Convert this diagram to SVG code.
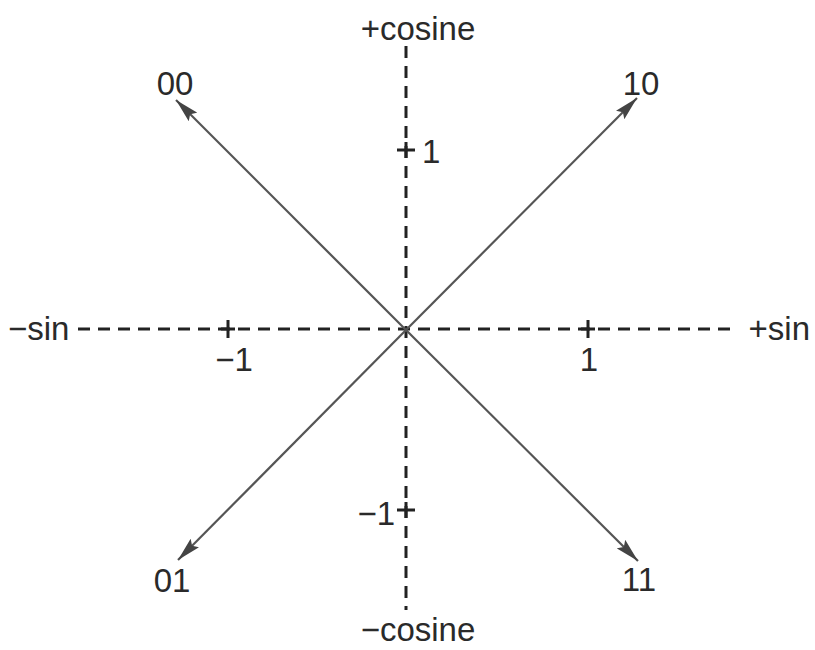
<svg xmlns="http://www.w3.org/2000/svg" width="815" height="650" viewBox="0 0 815 650">
<style>
text{font-family:"Liberation Sans",Arial,sans-serif;font-size:33px;fill:#2a2a2a}
.axis{stroke:#222;stroke-width:3;stroke-dasharray:12 8;fill:none}
.tick{stroke:#222;stroke-width:3;fill:none}
.vec{stroke:#555;stroke-width:2.2;fill:none;marker-end:url(#ah)}
</style>
<defs>
<marker id="ah" viewBox="0 0 24 12" refX="24" refY="6" markerWidth="24" markerHeight="12" markerUnits="userSpaceOnUse" orient="auto">
<path d="M0,0 L24,6 L0,12 L4,6 Z" fill="#444"/>
</marker>
</defs>
<g id="connectors">
<line class="axis" x1="406" y1="46" x2="406" y2="610"/>
<line class="axis" x1="78" y1="329" x2="735" y2="329"/>
<line class="vec" x1="406" y1="330" x2="176" y2="100"/>
<line class="vec" x1="406" y1="330" x2="637" y2="98"/>
<line class="vec" x1="406" y1="330" x2="178" y2="560"/>
<line class="vec" x1="406" y1="330" x2="638" y2="561"/>
</g>
<g id="ticks">
<path class="tick" d="M397,150 H415 M406,142 V158"/>
<path class="tick" d="M397,510 H415 M406,502 V518"/>
<path class="tick" d="M228,320 V338 M221,329 H235"/>
<path class="tick" d="M588,320 V338 M581,329 H595"/>
</g>
<g id="labels">
<text x="418" y="40" text-anchor="middle">+cosine</text>
<text x="418" y="641" text-anchor="middle">−cosine</text>
<text x="8" y="340">−sin</text>
<text x="810" y="340" text-anchor="end">+sin</text>
<text x="422" y="163">1</text>
<text x="395" y="525" text-anchor="end">−1</text>
<text x="234" y="371" text-anchor="middle">−1</text>
<text x="589" y="371" text-anchor="middle">1</text>
</g>
<g id="n00"><text x="175" y="95" text-anchor="middle">00</text></g>
<g id="n10"><text x="641" y="95" text-anchor="middle">10</text></g>
<g id="n01"><text x="172" y="592" text-anchor="middle">01</text></g>
<g id="n11"><text x="639" y="591" text-anchor="middle">11</text></g>
</svg>
